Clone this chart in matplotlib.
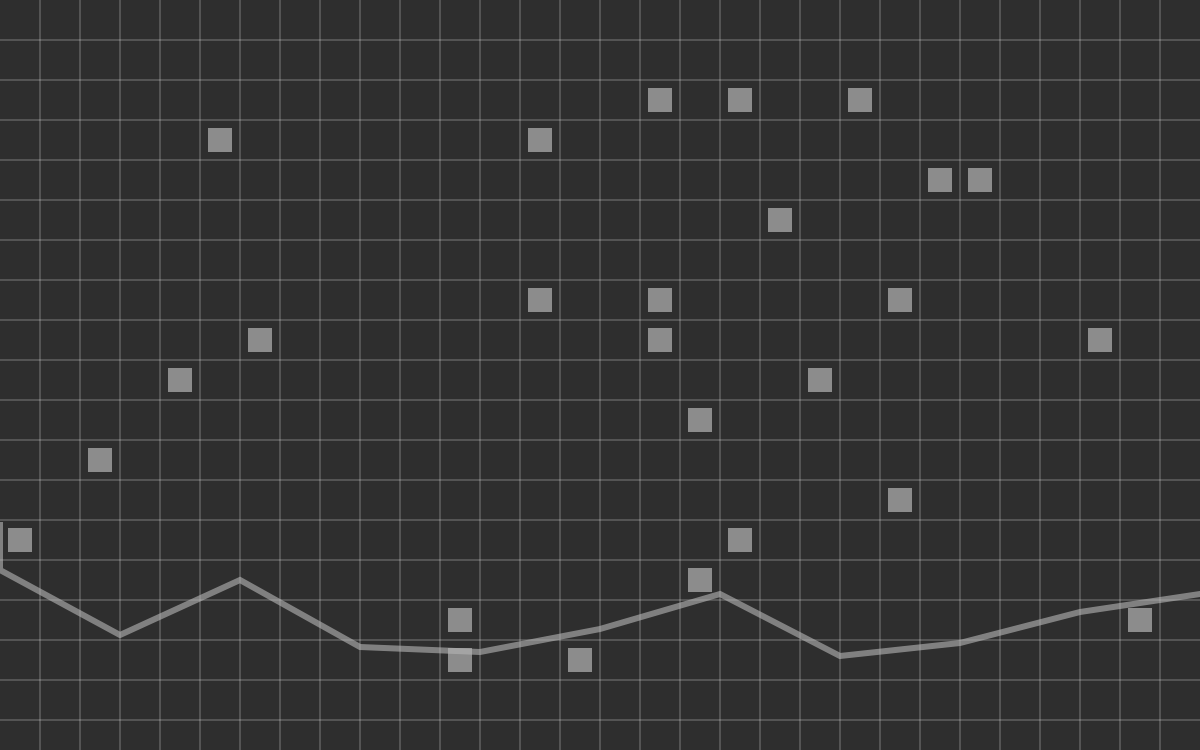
import numpy as np
import matplotlib
matplotlib.use('Agg')
import matplotlib.pyplot as plt

# Grid cells: 30 columns x 18.75 rows (each cell 40 px)
cols = 30
rows = 18.75

# Square markers (column, row of cell)
square_col = [5, 13, 16, 18, 21, 23, 24, 19, 13, 16, 22, 6, 16, 27, 4,
              20, 17, 2, 22, 0, 18, 17, 11, 28, 11, 14]
square_row = [3, 3, 2, 2, 2, 4, 4, 5, 7, 7, 7, 8, 8, 8, 9,
              9, 10, 11, 12, 13, 13, 14, 15, 15, 16, 16]

# Line path (in cell units)
line_x = [0, 0, 3, 6, 9, 12, 15, 18, 21, 24, 27, 30]
line_y = [13.125, 14.25, 15.875, 14.5, 16.175, 16.3, 15.725, 14.85,
          16.4, 16.075, 15.3, 14.85]

fig = plt.figure(figsize=(12, 7.5), dpi=100, facecolor='#2e2e2e')
ax = fig.add_axes([0, 0, 1, 1])
ax.set_facecolor('#2e2e2e')
ax.set_xlim(0, cols)
ax.set_ylim(rows, 0)

# Grid lines every cell
for gx in range(1, cols):
    ax.axvline(gx, color='white', alpha=0.22, linewidth=1.2, zorder=1)
for gy in range(1, int(rows) + 1):
    ax.axhline(gy, color='white', alpha=0.22, linewidth=1.2, zorder=1)

# Squares centred in cells
sx = np.array(square_col) + 0.5
sy = np.array(square_row) + 0.5
ax.scatter(sx, sy, marker='s', s=(24 * 0.72) ** 2, color='#8c8c8c',
           linewidths=0, zorder=2)

# Line on top
ax.plot(line_x, line_y, color='#b4b4b4', alpha=0.62, linewidth=6 * 0.72,
        solid_joinstyle='miter', zorder=3)

ax.axis('off')
fig.savefig('out.png', dpi=100, facecolor=fig.get_facecolor())
